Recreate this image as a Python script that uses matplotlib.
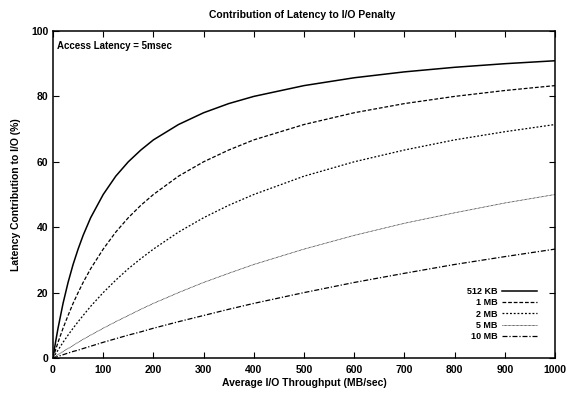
import matplotlib
matplotlib.use("Agg")
import matplotlib.pyplot as plt

# throughput (MB/sec) and latency share (%)
throughput = [0, 5, 10, 20, 30, 40, 50, 60, 75, 100, 125, 150, 175, 200, 250,
              300, 350, 400, 500, 600, 700, 800, 900, 1000]
kb512 = [0, 4.8, 9.1, 16.7, 23.1, 28.6, 33.3, 37.5, 42.9, 50.0, 55.6, 60.0,
         63.6, 66.7, 71.4, 75.0, 77.8, 80.0, 83.3, 85.7, 87.5, 88.9, 90.0, 90.9]
mb1 = [0, 2.4, 4.8, 9.1, 13.0, 16.7, 20.0, 23.1, 27.3, 33.3, 38.5, 42.9,
       46.7, 50.0, 55.6, 60.0, 63.6, 66.7, 71.4, 75.0, 77.8, 80.0, 81.8, 83.3]
mb2 = [0, 1.2, 2.4, 4.8, 7.0, 9.1, 11.1, 13.0, 15.8, 20.0, 23.8, 27.3,
       30.4, 33.3, 38.5, 42.9, 46.7, 50.0, 55.6, 60.0, 63.6, 66.7, 69.2, 71.4]
mb5 = [0, 0.5, 1.0, 2.0, 2.9, 3.8, 4.8, 5.7, 7.0, 9.1, 11.1, 13.0,
       14.9, 16.7, 20.0, 23.1, 25.9, 28.6, 33.3, 37.5, 41.2, 44.4, 47.4, 50.0]
mb10 = [0, 0.2, 0.5, 1.0, 1.5, 2.0, 2.4, 2.9, 3.6, 4.8, 5.9, 7.0,
        8.0, 9.1, 11.1, 13.0, 14.9, 16.7, 20.0, 23.1, 25.9, 28.6, 31.0, 33.3]

labels = ["512 KB", "1 MB", "2 MB", "5 MB", "10 MB"]
series = [kb512, mb1, mb2, mb5, mb10]
styles = [
    dict(ls="-", lw=1.1),
    dict(ls=(0, (3, 1.5)), lw=0.9),
    dict(ls=(0, (1.5, 1.5)), lw=0.9),
    dict(ls=(0, (0.8, 0.8)), lw=0.6),
    dict(ls=(0, (4, 1.5, 1, 1.5)), lw=0.9),
]

plt.rcParams.update({
    "font.family": "Liberation Sans",
    "font.size": 7.5,
    "font.weight": "bold",
    "axes.labelweight": "bold",
})

fig = plt.figure(figsize=(5.68, 3.93), dpi=100)
ax = fig.add_axes([53 / 568, 1 - 358 / 393, 502 / 568, 327 / 393])

for y, lab, st in zip(series, labels, styles):
    ax.plot(throughput, y, color="black", label=lab, **st)

ax.set_xlim(0, 1000)
ax.set_ylim(0, 100)
ax.set_xticks(range(0, 1001, 100))
ax.set_yticks(range(0, 101, 20))
ax.tick_params(direction="in", top=True, right=True, length=4, width=0.8,
               labelsize=7.5)
ax.tick_params(axis="y", pad=3.5)
ax.tick_params(axis="x", pad=5)
for s in ax.spines.values():
    s.set_linewidth(1.1)

ax.set_xlabel("Average I/O Throughput (MB/sec)", fontsize=7.5)
ax.set_ylabel("Latency Contribution to I/O (%)", fontsize=7.5)
ax.xaxis.set_label_coords(0.5, -0.061)
ax.yaxis.set_label_coords(-0.064, 0.5)
fig.text(302 / 568, 1 - 15 / 393, "Contribution of Latency to I/O Penalty",
         ha="center", va="center", fontsize=7.5)
ax.text(0.008, 0.954, "Access Latency = 5msec", transform=ax.transAxes,
        fontsize=7, va="center", ha="left")

ax.legend(loc="upper right", frameon=False, markerfirst=False,
          fontsize=6.5, handlelength=3.9, handletextpad=0.45,
          labelspacing=0.25, borderpad=0, borderaxespad=0,
          bbox_to_anchor=(0.964, 0.217))

fig.savefig("out.png", dpi=100)
